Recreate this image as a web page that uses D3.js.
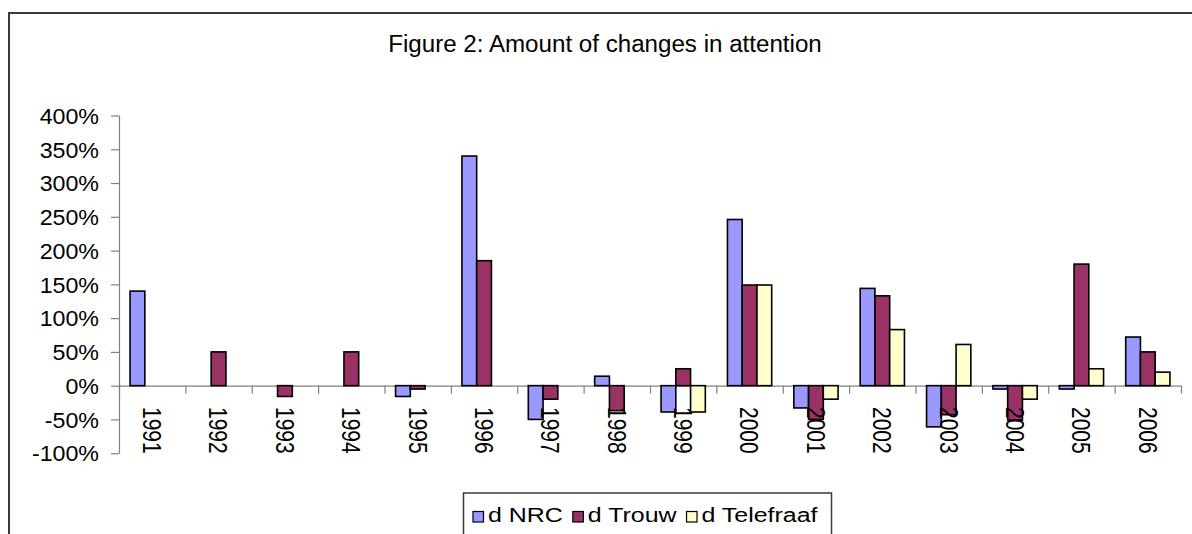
<!DOCTYPE html>
<html>
<head>
<meta charset="utf-8">
<script src="https://cdn.jsdelivr.net/npm/d3@7"></script>
<style>
  html, body { margin: 0; padding: 0; background: #ffffff; }
  svg { display: block; }
  text { font-family: "Liberation Sans", Arial, sans-serif; fill: #000; }
</style>
</head>
<body>
<svg id="chart" width="1192" height="534"></svg>
<script>
// Yearly change in attention per newspaper (percent); null = no value
const years = ["1991","1992","1993","1994","1995","1996","1997","1998","1999","2000","2001","2002","2003","2004","2005","2006"];
const seriesNames = ["d NRC", "d Trouw", "d Telefraaf"];
const nrc   = [140, null, null, null, -16, 340, -50, 14, -39, 246, -33, 144, -61, -5, -5, 72];
const trouw = [null, 50, -16, 50, -5, 185, -20, -37, 25, 149, -50, 133, -43, -51, 180, 50];
const tel   = [null, null, null, null, null, null, null, null, -39, 149, -20, 83, 61, -20, 25, 20];
const yTicks = [-100, -50, 0, 50, 100, 150, 200, 250, 300, 350, 400];
const title = "Figure 2: Amount of changes in attention";

const colors = ["#9999FF", "#993366", "#FFFFCC"];
const seriesValues = [nrc, trouw, tel];

const svg = d3.select("#chart");

// outer chart frame
svg.append("rect")
  .attr("x", 9).attr("y", 13)
  .attr("width", 1300).attr("height", 700)
  .attr("fill", "none")
  .attr("stroke", "#3a3a3a")
  .attr("stroke-width", 2);

// title
svg.append("text")
  .attr("transform", "translate(605,52) scale(1.05,1)")
  .attr("text-anchor", "middle")
  .style("font-size", "23px")
  .text(title);

const plotLeft = 119, plotRight = 1181, plotTop = 115.5, plotBottom = 453.2;

const x = d3.scaleBand().domain(years).range([plotLeft, plotRight]).padding(0);
const xs = d3.scaleBand().domain(seriesNames).range([0, x.bandwidth()])
  .paddingInner(0).paddingOuter(0.75);
const y = d3.scaleLinear().domain([-100, 400]).range([plotBottom, plotTop]);

// y axis
const yAxis = svg.append("g")
  .attr("transform", `translate(${plotLeft},0)`)
  .call(d3.axisLeft(y).tickValues(yTicks).tickFormat(d => d + "%").tickSize(8).tickSizeOuter(0));
yAxis.select(".domain").attr("stroke", "#808080").attr("stroke-width", 1.2);
yAxis.selectAll(".tick line").attr("stroke", "#808080").attr("stroke-width", 1.2);
yAxis.selectAll(".tick text")
  .attr("x", 0)
  .attr("dy", "0.36em")
  .attr("transform", "translate(-20,0) scale(1.08,1)")
  .style("font-size", "21.5px")
  .style("font-family", "'Liberation Sans', Arial, sans-serif")
  .attr("fill", "#000");

// category axis along zero line with ticks at category boundaries
const xb = d3.scaleLinear().domain([0, years.length]).range([plotLeft, plotRight]);
const xAxis = svg.append("g")
  .attr("transform", `translate(0,${y(0)})`)
  .call(d3.axisBottom(xb).tickValues(d3.range(years.length + 1)).tickFormat("").tickSize(8).tickSizeOuter(0));
xAxis.select(".domain").attr("stroke", "#808080").attr("stroke-width", 1.2);
xAxis.selectAll(".tick line").attr("stroke", "#808080").attr("stroke-width", 1.2);

// bars
const bars = [];
seriesValues.forEach((vals, si) => {
  vals.forEach((v, i) => {
    if (v !== null) bars.push({ year: years[i], series: seriesNames[si], si, v });
  });
});
svg.append("g").selectAll("rect")
  .data(bars)
  .join("rect")
  .attr("x", d => x(d.year) + xs(d.series))
  .attr("width", xs.bandwidth())
  .attr("y", d => Math.min(y(d.v), y(0)))
  .attr("height", d => Math.abs(y(d.v) - y(0)))
  .attr("fill", d => colors[d.si])
  .attr("stroke", "#000")
  .attr("stroke-width", 1.6);

// rotated year labels
svg.append("g").selectAll("text")
  .data(years)
  .join("text")
  .attr("transform", d => `translate(${x(d) + x.bandwidth() / 2},407) scale(1.2,1) rotate(90)`)
  .attr("dy", "0.36em")
  .attr("text-anchor", "start")
  .style("font-size", "21px")
  .text(d => d);

// legend
const legend = svg.append("g");
legend.append("rect")
  .attr("x", 463.5).attr("y", 493)
  .attr("width", 368).attr("height", 80)
  .attr("fill", "#fff")
  .attr("stroke", "#3a3a3a")
  .attr("stroke-width", 1.5);
const legendScale = 1.28;
let lx = 473;
seriesNames.forEach((name, i) => {
  legend.append("rect")
    .attr("x", lx).attr("y", 511.5)
    .attr("width", 10.5).attr("height", 10.5)
    .attr("fill", colors[i])
    .attr("stroke", "#000")
    .attr("stroke-width", 1.2);
  const t = legend.append("text")
    .attr("transform", `translate(${lx + 15},522) scale(${legendScale},1)`)
    .style("font-size", "19.5px")
    .text(name);
  const w = t.node().getComputedTextLength() * legendScale;
  lx = lx + 15 + w + 10;
});
</script>
</body>
</html>
